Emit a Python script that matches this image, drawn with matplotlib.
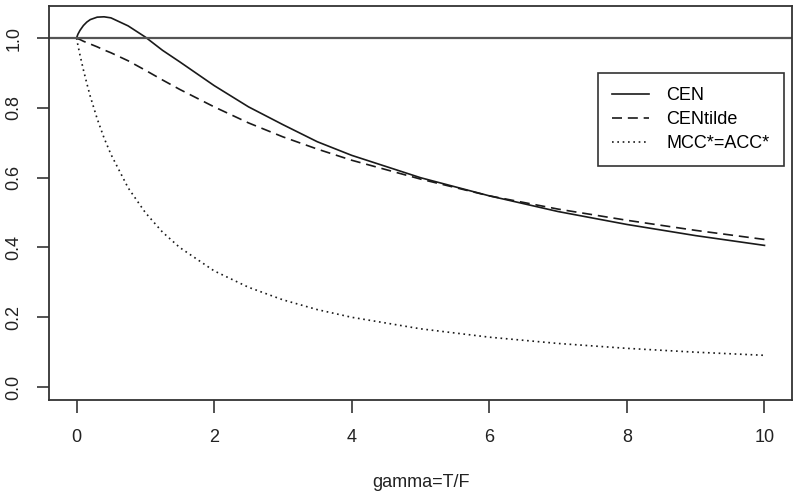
import matplotlib
matplotlib.use("Agg")
import matplotlib.pyplot as plt

# values
gamma = [0, 0.02, 0.05, 0.1, 0.15, 0.2, 0.3, 0.4, 0.5, 0.75, 1, 1.25, 1.5, 2, 2.5,
         3, 3.5, 4, 5, 6, 7, 8, 9, 10]
cen = [1.000, 1.011, 1.022, 1.036, 1.046, 1.053, 1.060, 1.061, 1.058, 1.035, 1.003,
       0.965, 0.932, 0.864, 0.803, 0.752, 0.703, 0.664, 0.600, 0.548, 0.503, 0.466,
       0.434, 0.406]
cen_tilde = [1.000, 0.998, 0.996, 0.991, 0.987, 0.983, 0.975, 0.966, 0.958, 0.935,
             0.908, 0.880, 0.853, 0.803, 0.757, 0.717, 0.682, 0.650, 0.596, 0.548,
             0.510, 0.478, 0.449, 0.423]
mcc = [1.000, 0.980, 0.952, 0.909, 0.870, 0.833, 0.769, 0.714, 0.667, 0.571, 0.500,
       0.444, 0.400, 0.333, 0.286, 0.250, 0.222, 0.200, 0.167, 0.143, 0.125, 0.111,
       0.100, 0.091]

labels = ["CEN", "CENtilde", "MCC*=ACC*"]
xticks = [0, 2, 4, 6, 8, 10]
yticks = [0.0, 0.2, 0.4, 0.6, 0.8, 1.0]

plt.rcParams['font.family'] = ['Liberation Sans', 'DejaVu Sans']

fig = plt.figure(figsize=(7.98, 4.99), dpi=100)
ax = fig.add_axes([0.0614, 0.1984, 0.9311, 0.7896])

lw = 1.2
ax.plot(gamma, cen, color="#1a1a1a", lw=lw, label=labels[0])
ax.plot(gamma, cen_tilde, color="#1a1a1a", lw=lw, dashes=(6, 3.5), label=labels[1])
ax.plot(gamma, mcc, color="#1a1a1a", lw=lw, dashes=(1, 2.2), label=labels[2])
ax.axhline(1.0, color="#555555", lw=1.6)

ax.set_xlim(-0.4, 10.4)
ax.set_ylim(-0.037, 1.092)
ax.set_xticks(xticks)
ax.set_xticklabels([str(t) for t in xticks])
ax.set_yticks(yticks)
ax.set_yticklabels(["%.1f" % t for t in yticks], rotation=90, va="center")

for s in ax.spines.values():
    s.set_color("#333333")
    s.set_linewidth(1.3)
ax.tick_params(direction="out", length=9, width=1.3, color="#444444",
               labelsize=13, labelcolor="#222222", pad=10)
ax.tick_params(axis="x", pad=12)

ax.set_xlabel("gamma=T/F", fontsize=13, color="#222222", labelpad=20)

leg = ax.legend(loc="upper right", bbox_to_anchor=(0.9825, 0.8543),
                bbox_transform=fig.transFigure, fontsize=13, frameon=True,
                fancybox=False, edgecolor="#333333", framealpha=1,
                handlelength=2.05, handletextpad=0.95, labelspacing=0.38,
                borderpad=0.8, borderaxespad=0)
leg.get_frame().set_linewidth(1.2)

fig.savefig("out.png", dpi=100)
